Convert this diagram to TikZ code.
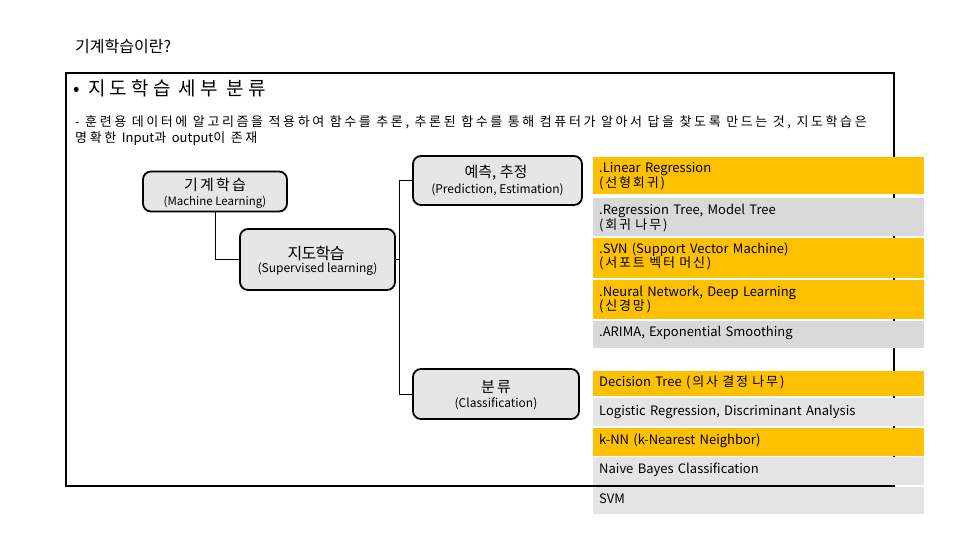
\documentclass[tikz,border=0pt]{standalone}
\usepackage{fontspec}
\setmainfont{Noto Sans CJK KR}
\newfontfamily\spacedA[LetterSpace=15]{Noto Sans CJK KR}
\newfontfamily\spacedC[LetterSpace=22]{Noto Sans CJK KR}
\newfontfamily\spacedD[LetterSpace=20]{Noto Sans CJK KR}
\newfontfamily\spacedB[LetterSpace=14]{Noto Sans CJK KR}
\newfontfamily\tightf[LetterSpace=-4]{Noto Sans CJK KR}
\newfontfamily\plainf{Noto Sans CJK KR}
\definecolor{orangeY}{HTML}{FFC000}
\definecolor{grayA}{HTML}{D9D9D9}
\definecolor{grayB}{HTML}{E4E4E4}
\definecolor{boxfill}{HTML}{E6E6E6}
\tikzset{
  rbox/.style={draw=black, line width=1.8pt, rounded corners=8pt, fill=boxfill, align=center, inner sep=0pt},
  conn/.style={draw=black, line width=0.9pt},
  litem/.style={anchor=north west, inner xsep=6pt, inner ysep=0pt, align=left, text width=319pt, font=\fontsize{13}{14.5}\selectfont},
}
\begin{document}
\begin{tikzpicture}[x=1pt,y=-1pt]
\useasboundingbox (0,0) rectangle (960,540);
% heading
\node[anchor=west, inner sep=0pt, font=\fontsize{16}{18}\selectfont] (title) at (75,46) {기계학습이란?};
% outer frame
\draw[line width=1.3pt] (66,73) rectangle (894,486);
\node[anchor=west, inner sep=0pt, font=\spacedC\fontsize{19}{22}\selectfont] (sub) at (73,88) {• 지도학습 세부 분류};
\node[anchor=north west, inner sep=0pt, align=left, font=\spacedD\fontsize{13}{16}\selectfont] (desc) at (75,115)
  {- 훈련용 데이터에 알고리즘을 적용하여 함수를 추론, 추론된 함수를 통해 컴퓨터가 알아서 답을 찾도록 만드는 것, 지도학습은\\명확한 {\plainf Input}과 {\plainf output}이 존재};
% rounded boxes
\node[rbox, minimum width=144pt, minimum height=40pt] (ml) at (215,191.5) {};
\node[font=\spacedA\fontsize{15}{17}\selectfont, inner sep=0pt] (mlt1) at (215,185) {기계학습};
\node[font=\fontsize{11.5}{13}\selectfont, inner sep=0pt] (mlt2) at (215,202) {(Machine Learning)};
\node[rbox, minimum width=155pt, minimum height=61pt] (sup) at (317.5,259.5) {};
\node[font=\tightf\fontsize{16}{19}\selectfont, inner sep=0pt] (supt1) at (316,253) {지도학습};
\node[font=\fontsize{12}{14}\selectfont, inner sep=0pt] (supt2) at (317.5,269.5) {(Supervised learning)};
\node[rbox, minimum width=169pt, minimum height=49pt] (pred) at (497.5,180.5) {};
\node[font=\fontsize{15}{17}\selectfont, inner sep=0pt] (predt1) at (496,173) {예측, 추정};
\node[font=\fontsize{12}{14}\selectfont, inner sep=0pt] (predt2) at (497.5,189.5) {(Prediction, Estimation)};
\node[rbox, minimum width=166pt, minimum height=50pt] (cls) at (496,394) {};
\node[font=\spacedA\fontsize{15}{17}\selectfont, inner sep=0pt] (clst1) at (496,387) {분류};
\node[font=\fontsize{12}{14}\selectfont, inner sep=0pt] (clst2) at (496,404) {(Classification)};
% connectors
\coordinate (jn) at (399,259.5);
\draw[conn] (ml.south) |- (sup.west);
\draw[conn] (sup.east) -- (jn);
\draw[conn] (pred.west) -| (jn);
\draw[conn] (cls.west) -| (jn);
% list items (regression)
\fill[orangeY] (593,157) rectangle (924,194);
\node[litem] (r1) at (593,162.5) {.Linear Regression\\{\spacedB(선형회귀)}};
\fill[grayA] (593,198) rectangle (924,236);
\node[litem] (r2) at (593,204) {.Regression Tree, Model Tree\\{\spacedB(회귀 나무)}};
\fill[orangeY] (593,238) rectangle (924,278);
\node[litem] (r3) at (593,242.5) {.SVN (Support Vector Machine)\\{\spacedB(서포트 벡터 머신)}};
\fill[orangeY] (593,280) rectangle (924,319);
\node[litem] (r4) at (593,285.5) {.Neural Network, Deep Learning\\{\spacedB(신경망)}};
\fill[grayA] (593,321) rectangle (924,348);
\node[litem, anchor=west] (r5) at (593,333) {.ARIMA, Exponential Smoothing};
% list items (classification)
\fill[orangeY] (593,371) rectangle (924,396);
\node[litem, anchor=west] (c1) at (593,382) {Decision Tree {\spacedB(의사 결정 나무)}};
\fill[grayB] (593,398) rectangle (924,426);
\node[litem, anchor=west] (c2) at (593,411.5) {Logistic Regression, Discriminant Analysis};
\fill[orangeY] (593,428) rectangle (924,456);
\node[litem, anchor=west] (c3) at (593,441) {k-NN (k-Nearest Neighbor)};
\fill[grayB] (593,457) rectangle (924,485);
\node[litem, anchor=west] (c4) at (593,470) {Naive Bayes Classification};
\fill[grayB] (593,487) rectangle (924,514);
\node[litem, anchor=west] (c5) at (593,498.5) {SVM};
\end{tikzpicture}
\end{document}
